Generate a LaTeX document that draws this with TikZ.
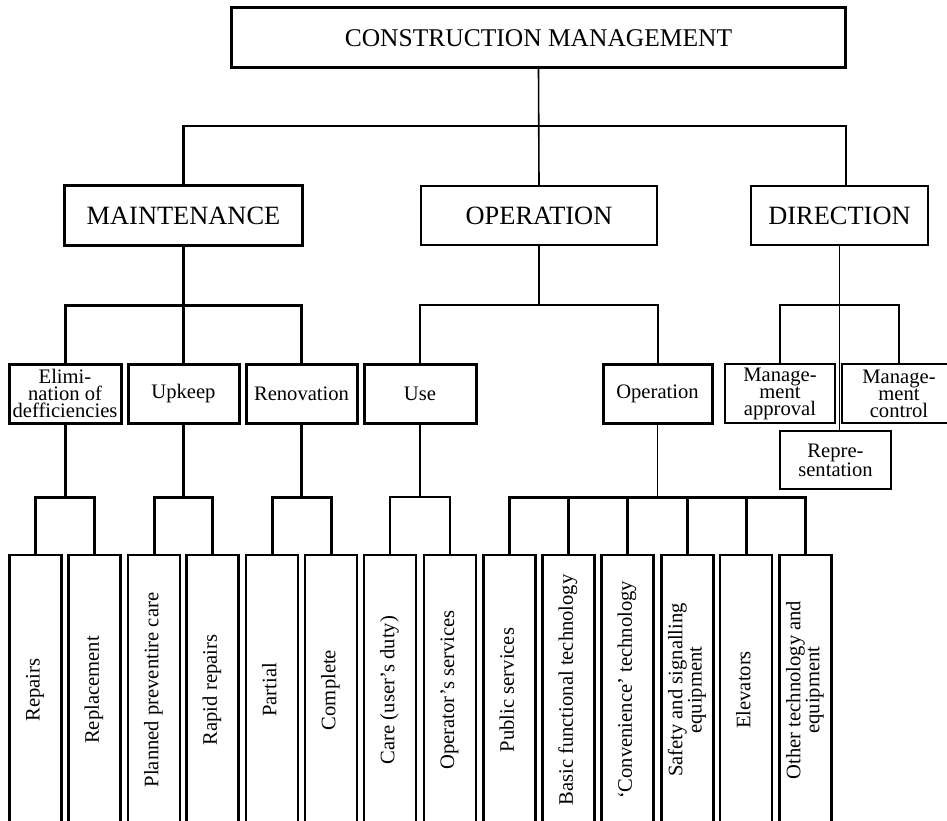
\documentclass[tikz,border=0pt]{standalone}
\usepackage{fontspec}
\setmainfont{Liberation Serif}
\usepackage{graphicx}
\newcommand\leaftxt[1]{\rotatebox{90}{\begin{tabular}{@{}c@{}}#1\end{tabular}}}
\begin{document}
\begin{tikzpicture}[x=1pt,y=-1pt,
  bx/.style={draw, inner sep=0pt, outer sep=0pt, align=center},
  lvltwo/.style={bx, minimum height=59pt, font=\fontsize{26.4}{30}\selectfont},
  lvlthree/.style={bx, minimum height=59pt, font=\fontsize{20.6}{17}\selectfont},
  leafbox/.style={bx, minimum width=52pt, minimum height=270pt, line width=2.6pt, font=\fontsize{20.6}{18.5}\selectfont},
  wthick/.style={line width=3pt},
  wthin/.style={line width=1.6pt}
]
\useasboundingbox (0,0) rectangle (947,821);
\clip (0,0) rectangle (947,821);

% level 1
\node[bx, line width=3pt, minimum width=614pt, minimum height=60pt, font=\fontsize{25.5}{28}\selectfont] (top) at (538.5,38) {CONSTRUCTION MANAGEMENT};

% level 2
\node[lvltwo, line width=3pt, minimum width=238pt] (maint) at (183.5,215.5) {MAINTENANCE};
\node[lvltwo, line width=2pt, minimum width=236pt] (oper) at (539,215.5) {OPERATION};
\node[lvltwo, line width=2.2pt, minimum width=177pt] (dir) at (839.5,215.5) {DIRECTION};

% level 3
\node[lvlthree, line width=3pt, minimum width=112pt] (elim) at (65,393.5) {Elimi-\\nation of\\defficiencies};
\node[lvlthree, line width=3pt, minimum width=111pt] (upkeep) at (183.5,393.5) {Upkeep};
\node[lvlthree, line width=3pt, minimum width=111pt] (renov) at (301.5,393.5) {Renovation};
\node[lvlthree, line width=3pt, minimum width=112pt] (use) at (420,393.5) {Use};
\node[lvlthree, line width=3pt, minimum width=109pt] (opn) at (657.5,393.5) {Operation};
\node[lvlthree, line width=2pt, minimum width=110pt] (mappr) at (780,393.5) {Manage-\\ment\\approval};
\node[lvlthree, line width=2pt, minimum width=114pt] (mctrl) at (899,393.5) {Manage-\\ment\\control};
\node[lvlthree, line width=2.4pt, minimum width=111pt, minimum height=58pt, font=\fontsize{20.6}{19}\selectfont] (repr) at (835.5,460) {Repre-\\sentation};

% leaves
\node[leafbox] (rep) at (35.5,690) {\leaftxt{Repairs}};
\node[leafbox] (rpl) at (94.5,690) {\leaftxt{Replacement}};
\node[leafbox] (ppc) at (154,690) {\leaftxt{Planned preventire care}};
\node[leafbox] (rr) at (212.5,690) {\leaftxt{Rapid repairs}};
\node[leafbox] (par) at (272,690) {\leaftxt{Partial}};
\node[leafbox] (com) at (331,690) {\leaftxt{Complete}};
\node[leafbox, line width=2.2pt] (care) at (390,690) {\leaftxt{Care (user’s duty)}};
\node[leafbox, line width=2.2pt] (ops) at (450,690) {\leaftxt{Operator’s services}};
\node[leafbox] (pub) at (509.5,690) {\leaftxt{Public services}};
\node[leafbox] (bft) at (568.5,690) {\leaftxt{Basic functional technology}};
\node[leafbox] (cvt) at (627.5,690) {\leaftxt{‘Convenience’ technology}};
\node[leafbox] (saf) at (687.5,690) {\leaftxt{Safety and signalling\\equipment}};
\node[leafbox] (elv) at (746,690) {\leaftxt{Elevators}};
\node[leafbox] (oth) at (805.5,690) {\leaftxt{Other technology and\\equipment}};

% bus levels
\coordinate (b1) at (0,126);
\coordinate (b2) at (0,305);
\coordinate (b3) at (0,497);

% level 1 -> 2
\draw[wthin] (top.south) -- (oper.north);
\draw[wthick] (maint.north) -- (maint.north |- b1);
\draw[line width=2.6pt, line cap=rect] (maint.north |- b1) -- (top.east |- b1);
\draw[line width=2pt] (top.east |- b1) -- (top.east |- dir.north);

% level 2 -> 3
\draw[wthick] (maint.south) -- (upkeep.north);
\draw[wthick] (elim.north) |- (renov.north |- b2) -- (renov.north);
\draw[wthin] (oper.south) -- (oper.south |- b2);
\draw[line width=2pt] (use.north) |- (opn.north |- b2) -- (opn.north);
\draw[line width=1.4pt] (dir.south) -- (dir.south |- repr.north);
\draw[line width=2.2pt] (mappr.north) |- (mctrl.north |- b2) -- (mctrl.north);

% level 3 -> 4
\draw[wthick] (elim.south) -- (elim.south |- b3);
\draw[wthick] (rep.north) |- (rpl.north |- b3) -- (rpl.north);
\draw[wthick] (upkeep.south) -- (upkeep.south |- b3);
\draw[wthick] (ppc.north) |- (rr.north |- b3) -- (rr.north);
\draw[wthick] (renov.south) -- (renov.south |- b3);
\draw[wthick] (par.north) |- (com.north |- b3) -- (com.north);
\draw[wthin] (use.south) -- (use.south |- b3);
\draw[line width=2pt] (care.north) |- (ops.north |- b3) -- (ops.north);
\draw[wthin] (opn.south) -- (opn.south |- b3);
\draw[wthick] (pub.north) |- (oth.north |- b3) -- (oth.north);
\foreach \n in {bft,cvt,saf,elv} \draw[wthick] (\n.north) -- (\n.north |- b3);
\end{tikzpicture}
\end{document}
